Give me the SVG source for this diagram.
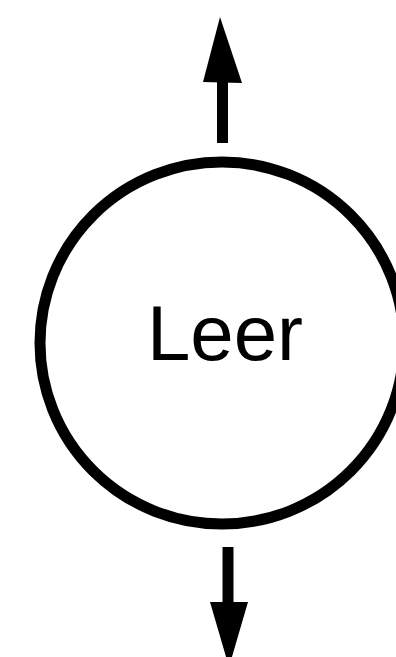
<svg xmlns="http://www.w3.org/2000/svg" width="396" height="657" viewBox="0 0 396 657">
<style>
.stroke{fill:none;stroke:#000;stroke-width:11}
.shaft{stroke:#000;stroke-width:11;fill:none}
.head{fill:#000}
.label{font-family:"Liberation Sans",Arial,sans-serif;font-size:78px;fill:#000}
</style>
<rect width="396" height="657" fill="#fff"/>
<g id="node-leer">
<ellipse class="stroke" cx="222" cy="343" rx="182" ry="181"/>
<text class="label" x="225" y="360" text-anchor="middle">Leer</text>
</g>
<g id="connectors">
<g id="arrow-up">
<line class="shaft" x1="222.5" y1="143" x2="222.5" y2="75"/>
<polygon class="head" points="220,17 203,82 242,83"/>
</g>
<g id="arrow-down">
<line class="shaft" x1="228" y1="547" x2="228" y2="610"/>
<polygon class="head" points="210,602 248,602 229,667"/>
</g>
</g>
</svg>
